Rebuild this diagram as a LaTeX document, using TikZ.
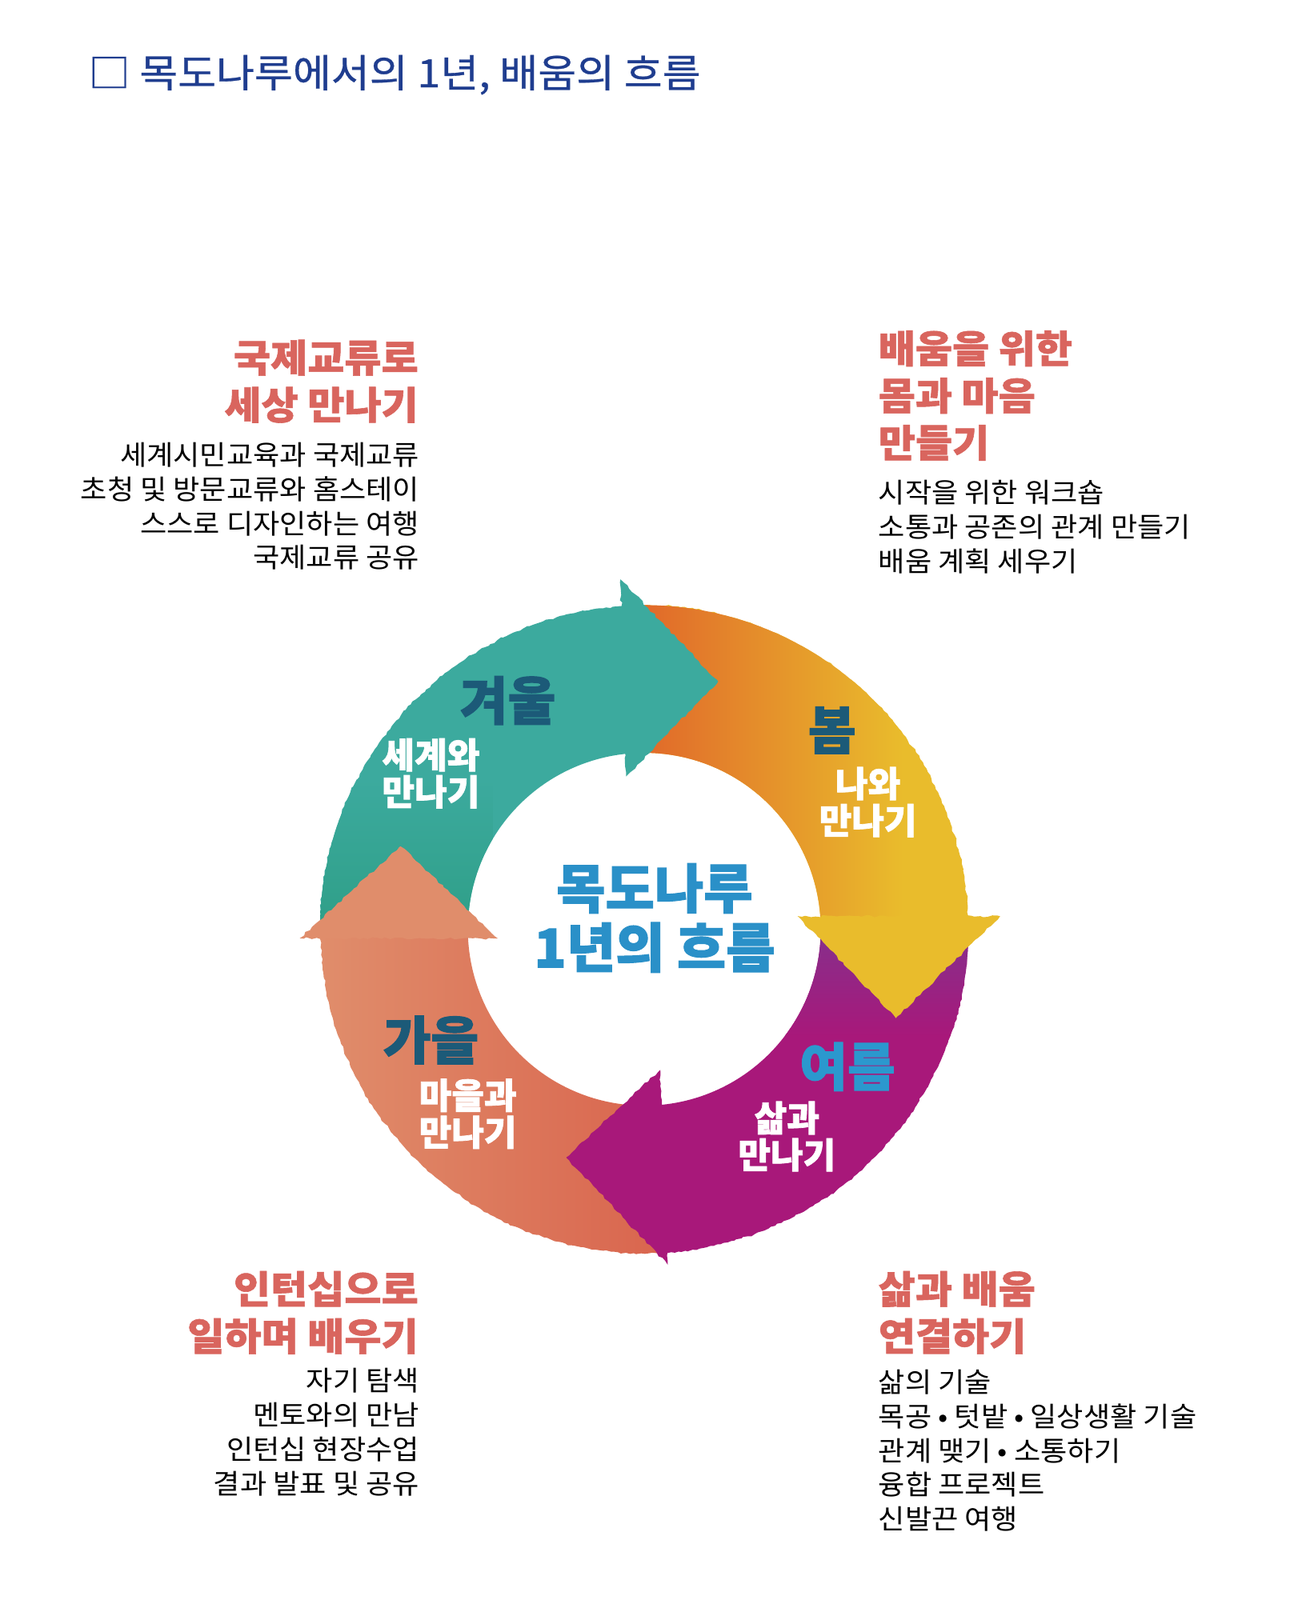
\documentclass[tikz,border=0pt]{standalone}
\usepackage{fontspec}
\setmainfont{Noto Sans CJK KR}
\newfontfamily\titlefont{Noto Sans CJK KR}[FakeStretch=1.07, FakeBold=0.6]
\newfontfamily\bodyfont{Noto Sans CJK KR}[FakeStretch=1.055]
\newfontfamily\headfont{Noto Sans CJK KR}[FakeStretch=1.05, BoldFeatures={FakeBold=1.2}]
\newfontfamily\ringfont{Noto Sans CJK KR}[BoldFeatures={FakeBold=1.6}]
\usetikzlibrary{calc,decorations.pathmorphing}
\definecolor{titleblue}{HTML}{1F3D8F}
\definecolor{headred}{HTML}{D9655E}
\definecolor{tealA}{HTML}{3CAA9E}
\definecolor{tealB}{HTML}{2E9E86}
\definecolor{sprA}{HTML}{E0602A}
\definecolor{sprM}{HTML}{E79A30}
\definecolor{sprB}{HTML}{E9BC2C}
\definecolor{sumA}{HTML}{7E3590}
\definecolor{sumB}{HTML}{A8187A}
\definecolor{autA}{HTML}{E08D6B}
\definecolor{autB}{HTML}{D9654E}
\definecolor{seasondark}{HTML}{1C5A78}
\definecolor{seasonlight}{HTML}{2B98CE}
\definecolor{centerblue}{HTML}{2A90C8}
\newcommand\ringpath[2]{plot[domain=#1:#2, samples=70] ({628+316*cos(\x)},{906+316*sin(\x)})
    -- plot[domain=#2:#1, samples=70] ({628+172*cos(\x)},{906+172*sin(\x)}) -- cycle}
\begin{document}
\begin{tikzpicture}[x=0.025cm,y=-0.025cm,
  rough/.style={decorate, decoration={random steps, segment length=3pt, amplitude=0.8pt}},
  heading/.style={font=\headfont\fontsize{26.5}{32.7}\selectfont\bfseries, text=headred, inner sep=0pt},
  bodytext/.style={font=\bodyfont\fontsize{19}{23.8}\selectfont, text=black, inner sep=0pt},
  season/.style={font=\ringfont\fontsize{36}{40}\selectfont\bfseries, inner sep=0pt},
  sublabel/.style={font=\ringfont\fontsize{24.5}{25.6}\selectfont\bfseries, text=white, align=center, inner sep=0pt}]
\useasboundingbox (0,0) rectangle (1280,1560);
\fill[white] (0,0) rectangle (1280,1560);
\coordinate (C) at (628,906);

% title
\node[anchor=west, font=\titlefont\fontsize{27}{30}\selectfont, text=titleblue, inner sep=0pt] (title) at (86,73) {□ 목도나루에서의 1년, 배움의 흐름};

% ring bodies (winter, spring, summer, autumn)
\path[rough, fill=tealA] \ringpath{179.5}{267};
\begin{scope}
  \clip \ringpath{179.5}{267};
  \shade[top color=tealA, bottom color=tealB] (290,760) rectangle (480,915);
\end{scope}
\path[rough, fill=sprB] \ringpath{-93}{-1};
\begin{scope}
  \clip \ringpath{-93}{-1};
  \shade[left color=sprA, middle color=sprM, right color=sprB] (600,580) rectangle (880,915);
\end{scope}
\path[rough, fill=sumB] \ringpath{-1}{86.5};
\begin{scope}
  \clip \ringpath{-1}{86.5};
  \shade[top color=sumA, bottom color=sumB] (600,885) rectangle (980,1010);
\end{scope}
\path[rough, left color=autA, right color=autB] \ringpath{86.5}{179.5};

% arrow heads
\fill[rough, tealA] ($(C)+(263.2:150)$) -- ($(C)+(266.1:342)$) -- ($(C)+(286.6:252)$) -- cycle;
\fill[rough, sprB] ($(C)+(-4.9:150)$) -- ($(C)+(-2.1:347)$) -- ($(C)+(19.5:260)$) -- cycle;
\fill[rough, sumB] ($(C)+(83.5:138)$) -- ($(C)+(86:328)$) -- ($(C)+(109:235)$) -- cycle;
\fill[rough, autA] ($(C)+(176.4:143)$) -- ($(C)+(178.5:336)$) -- ($(C)+(198.8:251)$) -- cycle;

% season labels
\node[season, text=seasondark] (winter) at (495,683) {겨울};
\node[sublabel] (winterSub) at (420,754) {세계와\\만나기};
\node[season, text=seasondark] (spring) at (811,712) {봄};
\node[sublabel] (springSub) at (846,782) {나와\\만나기};
\node[season, text=seasonlight] (summer) at (826,1040) {여름};
\node[sublabel] (summerSub) at (767,1108) {삶과\\만나기};
\node[season, text=seasondark] (autumn) at (420,1014) {가을};
\node[sublabel] (autumnSub) at (456,1086) {마을과\\만나기};

% center
\node[font=\ringfont\fontsize{37}{41}\selectfont\bfseries, text=centerblue, align=center, inner sep=0pt] (centerText) at (638,895) {목도나루\\1년의 흐름};

% text blocks
\node[heading, anchor=north east, align=right] (hwinter) at (408,331) {국제교류로\\세상 만나기};
\node[bodytext, anchor=north east, align=right] (bwinter) at (409,431) {세계시민교육과 국제교류\\초청 및 방문교류와 홈스테이\\스스로 디자인하는 여행\\국제교류 공유};

\node[heading, anchor=north west, align=left] (hspring) at (856,322) {배움을 위한\\몸과 마음\\만들기};
\node[bodytext, anchor=north west, align=left] (bspring) at (856,468) {시작을 위한 워크숍\\소통과 공존의 관계 만들기\\배움 계획 세우기};

\node[heading, anchor=north east, align=right] (hautumn) at (408,1239) {인턴십으로\\일하며 배우기};
\node[bodytext, anchor=north east, align=right] (bautumn) at (409,1334) {자기 탐색\\멘토와의 만남\\인턴십 현장수업\\결과 발표 및 공유};

\node[heading, anchor=north west, align=left] (hsummer) at (856,1239) {삶과 배움\\연결하기};
\node[bodytext, anchor=north west, align=left] (bsummer) at (856,1335) {삶의 기술\\목공 • 텃밭 • 일상생활 기술\\관계 맺기 • 소통하기\\융합 프로젝트\\신발끈 여행};
\end{tikzpicture}
\end{document}
